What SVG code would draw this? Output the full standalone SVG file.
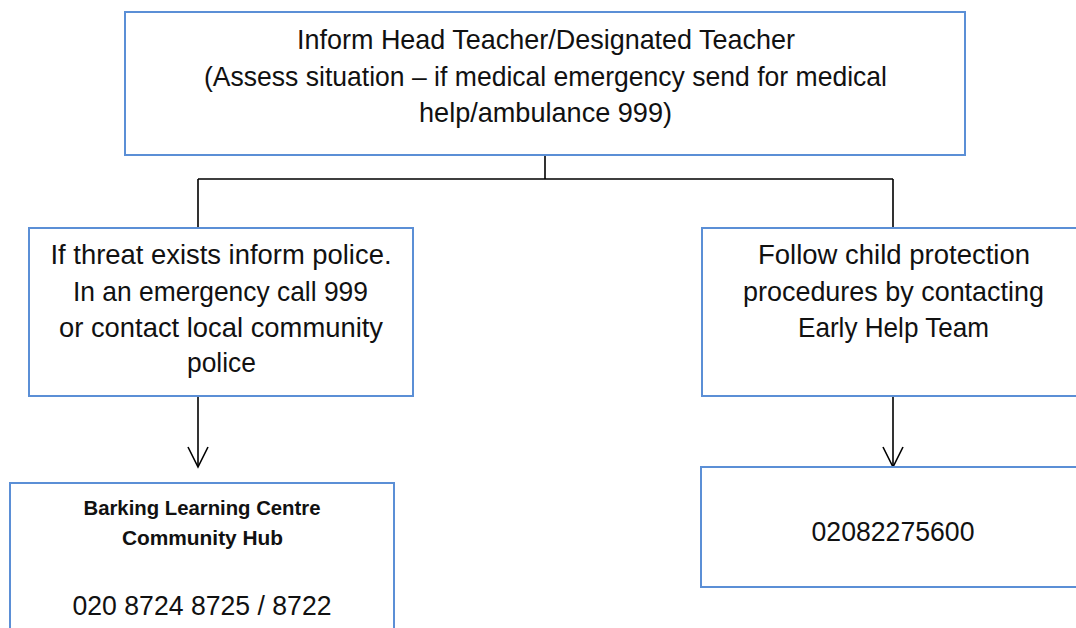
<svg xmlns="http://www.w3.org/2000/svg" width="1076" height="628" viewBox="0 0 1076 628">
<defs>
<style>
.box{fill:#ffffff;stroke:#5B8FD6;stroke-width:2}
.t{font-family:"Liberation Sans",Arial,sans-serif;font-size:27.5px;fill:#111;text-anchor:middle}
.b{font-family:"Liberation Sans",Arial,sans-serif;font-size:20px;font-weight:bold;fill:#111;text-anchor:middle}
.c{fill:none;stroke:#000;stroke-width:1.6}
</style>
</defs>
<rect width="1076" height="628" fill="#ffffff"/>
<g id="connectors">
<path class="c" d="M545,155 V179 M198,179 H893 M198,179 V228 M893,179 V228"/>
<line class="c" x1="198" y1="396" x2="198" y2="466"/>
<path class="c" d="M188,447 L198,467 L208,447"/>
<line class="c" x1="893" y1="396" x2="893" y2="466"/>
<path class="c" d="M883,447 L893,467 L903,447"/>
</g>
<g id="node-inform">
<rect class="box" x="125" y="12" width="840" height="143"/>
<text class="t" x="546" y="49" textLength="498" lengthAdjust="spacingAndGlyphs">Inform Head Teacher/Designated Teacher</text>
<text class="t" x="545.5" y="85.5" textLength="683" lengthAdjust="spacingAndGlyphs">(Assess situation – if medical emergency send for medical</text>
<text class="t" x="545.5" y="122" textLength="253" lengthAdjust="spacingAndGlyphs">help/ambulance 999)</text>
</g>
<g id="node-police">
<rect class="box" x="29" y="228" width="384" height="168"/>
<text class="t" x="221" y="264" textLength="341" lengthAdjust="spacingAndGlyphs">If threat exists inform police.</text>
<text class="t" x="220.5" y="301" textLength="295" lengthAdjust="spacingAndGlyphs">In an emergency call 999</text>
<text class="t" x="221" y="337" textLength="324" lengthAdjust="spacingAndGlyphs">or contact local community</text>
<text class="t" x="221.5" y="372" textLength="69" lengthAdjust="spacingAndGlyphs">police</text>
</g>
<g id="node-childprotection">
<rect class="box" x="702" y="228" width="390" height="168"/>
<text class="t" x="894" y="264" textLength="272" lengthAdjust="spacingAndGlyphs">Follow child protection</text>
<text class="t" x="893.5" y="301" textLength="301" lengthAdjust="spacingAndGlyphs">procedures by contacting</text>
<text class="t" x="893.5" y="337" textLength="191" lengthAdjust="spacingAndGlyphs">Early Help Team</text>
</g>
<g id="node-hub">
<rect class="box" x="10" y="483" width="384" height="160"/>
<text class="b" x="202" y="515" textLength="237" lengthAdjust="spacingAndGlyphs">Barking Learning Centre</text>
<text class="b" x="202.5" y="545" textLength="161" lengthAdjust="spacingAndGlyphs">Community Hub</text>
<text class="t" x="202" y="615" textLength="259" lengthAdjust="spacingAndGlyphs">020 8724 8725 / 8722</text>
</g>
<g id="node-earlyhelp">
<rect class="box" x="701" y="467" width="390" height="120"/>
<text class="t" x="893" y="541" textLength="163" lengthAdjust="spacingAndGlyphs">02082275600</text>
</g>
</svg>
